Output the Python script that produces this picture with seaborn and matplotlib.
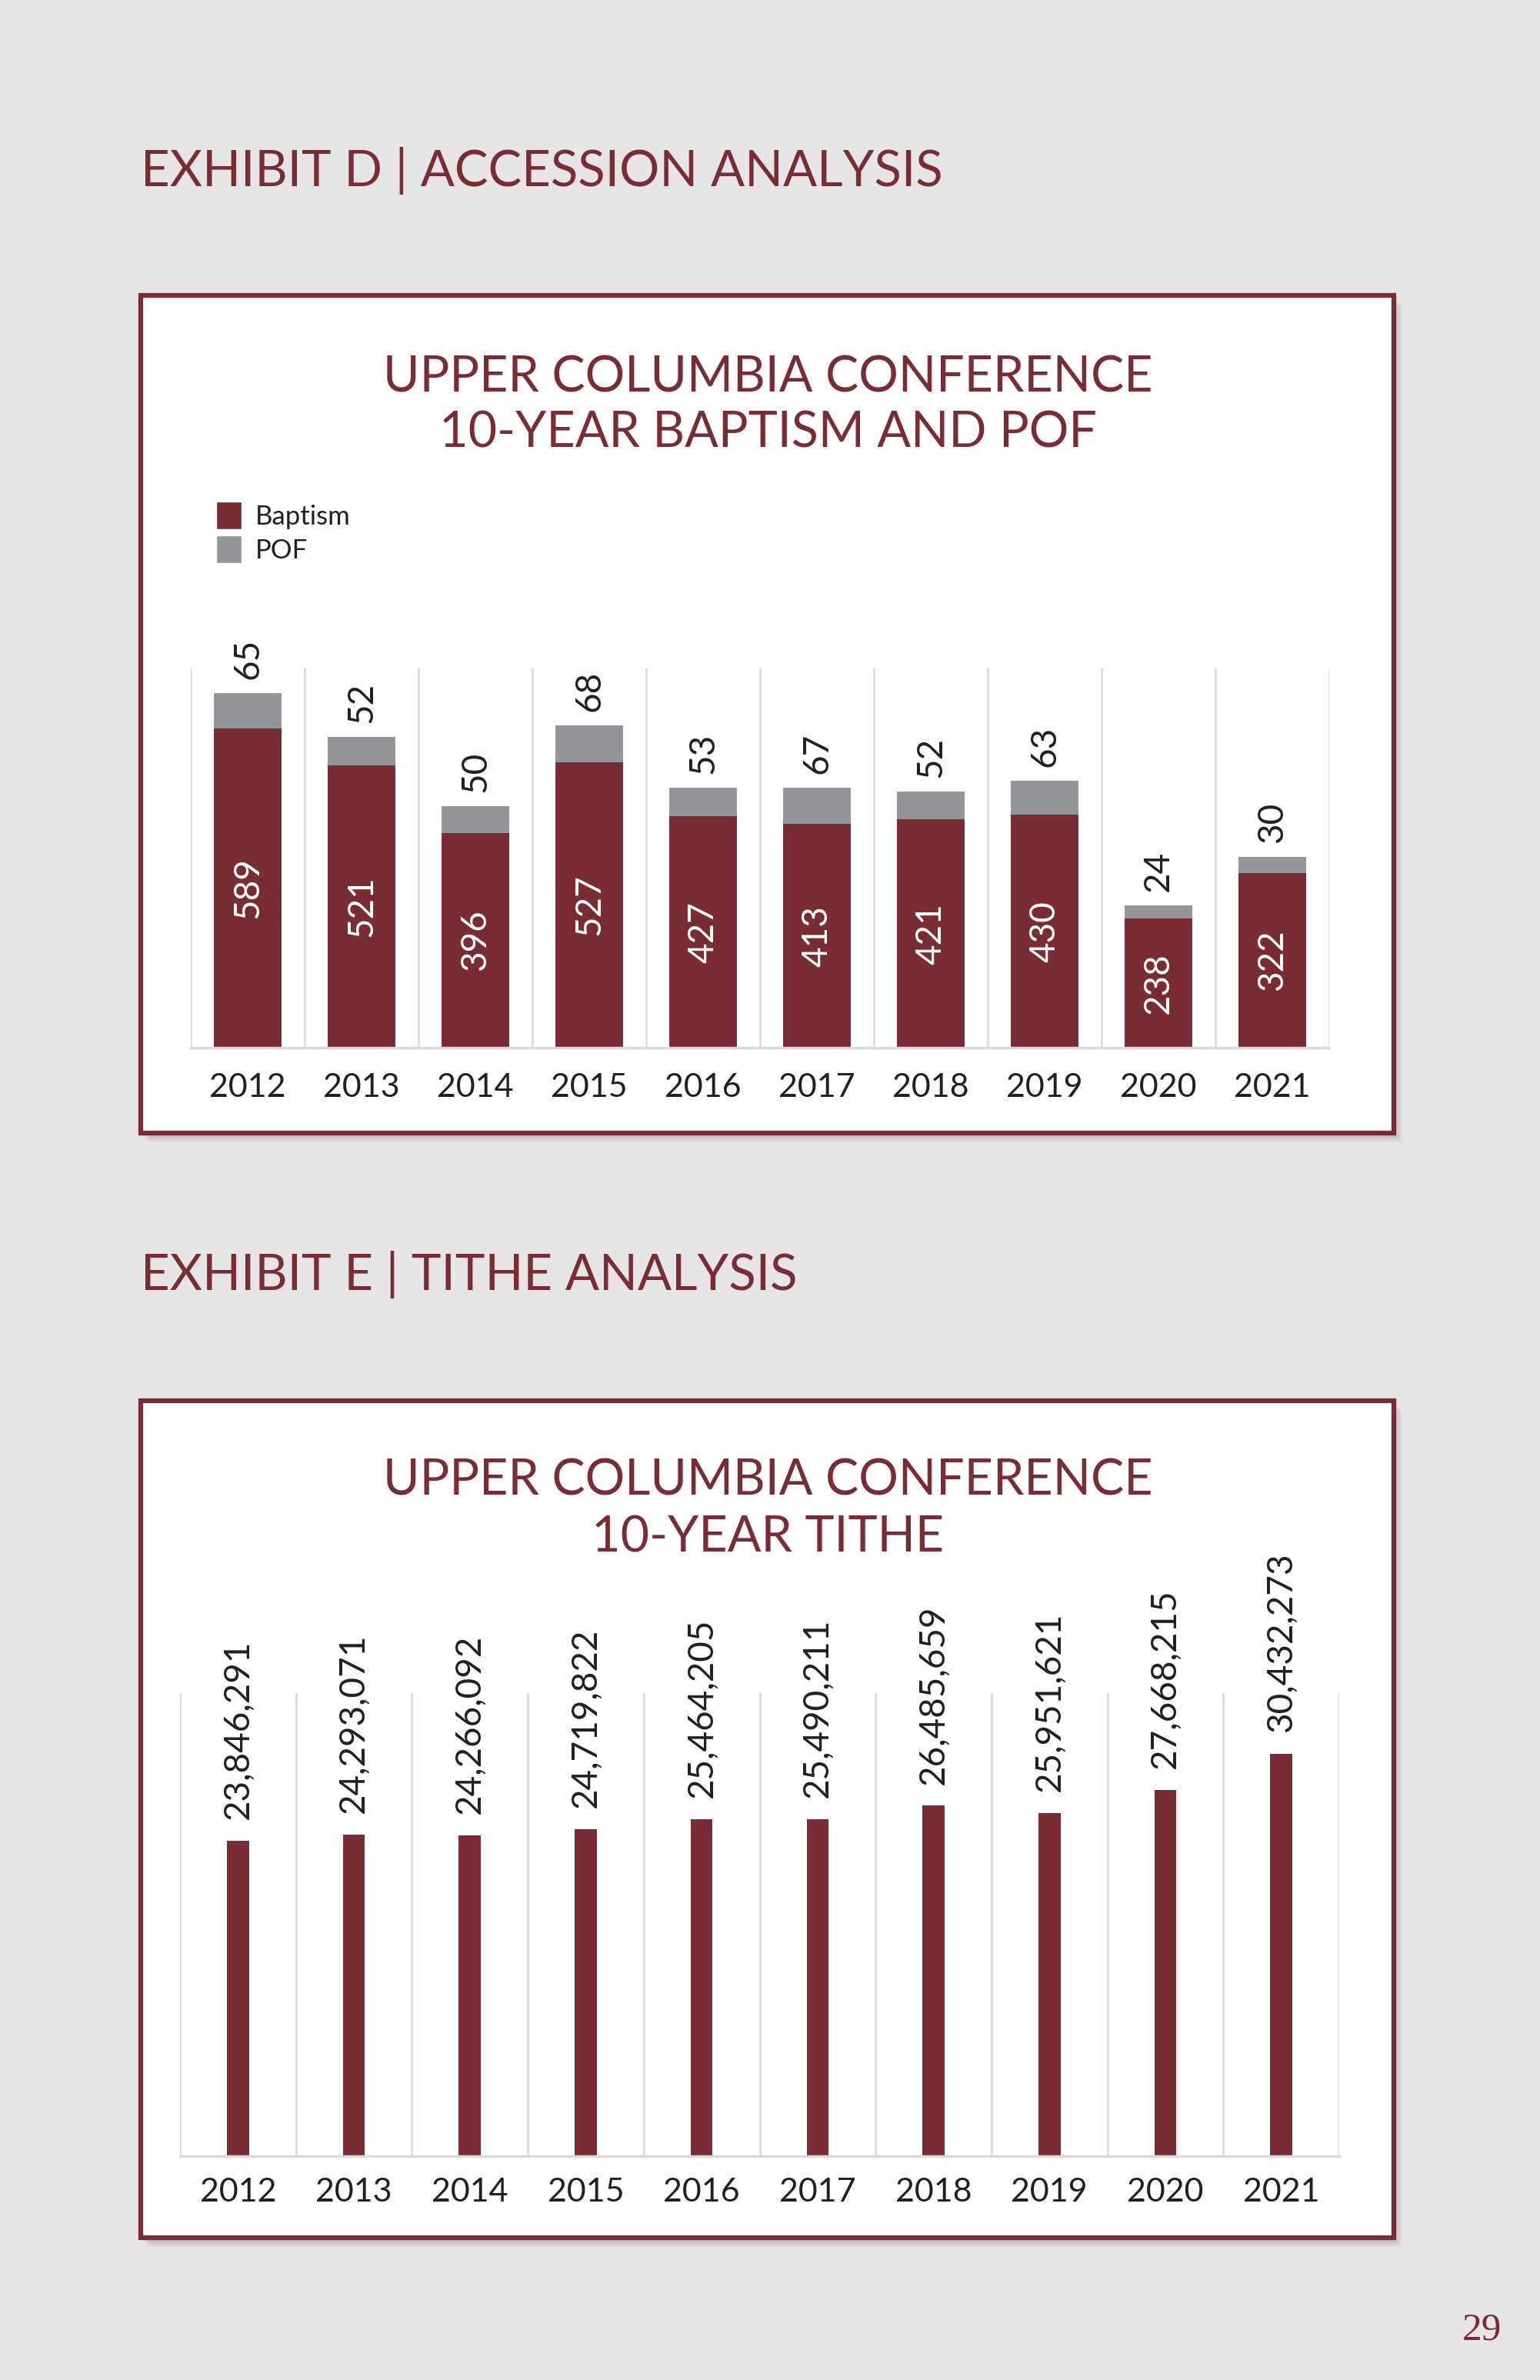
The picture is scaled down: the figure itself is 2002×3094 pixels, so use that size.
import numpy as np
import pandas as pd
import matplotlib
matplotlib.use("Agg")
import matplotlib.pyplot as plt
import seaborn as sns
from matplotlib.patches import Rectangle, Patch

years = ["2012", "2013", "2014", "2015", "2016", "2017", "2018", "2019", "2020", "2021"]
baptism = [589, 521, 396, 527, 427, 413, 421, 430, 238, 322]
pof = [65, 52, 50, 68, 53, 67, 52, 63, 24, 30]
tithe = [23846291, 24293071, 24266092, 24719822, 25464205,
         25490211, 26485659, 25951621, 27668215, 30432273]

MAROON = "#7A2C35"
GRAY = "#939598"
PAGE = "#E7E5E5"
GRID = "#D9D9D9"
DARK = "#231F20"
FONT = ["Lato", "DejaVu Sans"]

sns.set_theme(style="white")
plt.rcParams["font.family"] = FONT

W, H = 2002, 3094
fig = plt.figure(figsize=(W / 100, H / 100), dpi=100, facecolor=PAGE)


def fx(px):
    return px / W


def fy(py):
    return 1 - py / H


def card(x0, y0, x1, y1):
    # soft shadow, then white card with maroon border
    for i in range(4):
        d = 3 + i * 3
        fig.patches.append(Rectangle((fx(x0 + d - 2), fy(y1 + d)), fx(x1 - x0), (y1 - y0) / H,
                                     transform=fig.transFigure, facecolor="black",
                                     edgecolor="none", alpha=0.05, zorder=-3))
    fig.patches.append(Rectangle((fx(x0), fy(y1)), fx(x1 - x0), (y1 - y0) / H,
                                 transform=fig.transFigure, facecolor="white",
                                 edgecolor=MAROON, linewidth=4.5, zorder=-2))


def style_axes(ax, ymax, pad):
    ax.set_facecolor("none")
    ax.set_ylim(0, ymax)
    ax.set_xlim(-0.5, len(years) - 0.5)
    ax.set_yticks([])
    ax.set_xlabel("")
    ax.set_ylabel("")
    ax.set_xticks(np.arange(-0.5, len(years), 1.0), minor=True)
    ax.grid(which="minor", axis="x", color=GRID, linewidth=2)
    ax.grid(which="major", visible=False)
    ax.set_axisbelow(True)
    for s in ["top", "left", "right"]:
        ax.spines[s].set_visible(False)
    ax.spines["bottom"].set_color(GRID)
    ax.spines["bottom"].set_linewidth(2.5)
    ax.tick_params(axis="x", which="both", length=0, labelsize=31,
                   labelcolor=DARK, pad=pad)


def title(x, y, s, size, ha="left"):
    fig.text(fx(x), fy(y), s, color=MAROON, fontsize=size, ha=ha, va="baseline")


# ---------- Exhibit D ----------
title(183, 242, "EXHIBIT D | ACCESSION ANALYSIS", 47)
card(183, 384, 1812, 1473)
title(998, 510, "UPPER COLUMBIA CONFERENCE", 46.5, ha="center")
title(998, 582, "10-YEAR BAPTISM AND POF", 46.5, ha="center")

ax1 = fig.add_axes([fx(248), fy(1362), fx(1728 - 248), (1362 - 869) / H])
total = [b + p for b, p in zip(baptism, pof)]
df1 = pd.DataFrame({"year": years, "baptism": baptism, "pof": pof, "total": total})
sns.barplot(data=df1, x="year", y="total", color=GRAY, width=0.59,
            saturation=1, linewidth=0, ax=ax1)
sns.barplot(data=df1, x="year", y="baptism", color=MAROON, width=0.59,
            saturation=1, linewidth=0, ax=ax1)
ax1.bar_label(ax1.containers[0], labels=[str(v) for v in pof], padding=13,
              rotation=90, fontsize=33, color=DARK)
ax1.bar_label(ax1.containers[1], labels=[str(v) for v in baptism], label_type="center",
              rotation=90, fontsize=33, color="white")
style_axes(ax1, 700, 24)

ax1.legend(handles=[Patch(facecolor=MAROON, label="Baptism"),
                    Patch(facecolor=GRAY, label="POF")],
           loc="upper left", bbox_to_anchor=(fx(281), fy(652)),
           bbox_transform=fig.transFigure, frameon=False, fontsize=25,
           handlelength=0.96, handleheight=1.2, handletextpad=0.5,
           labelspacing=0.25, borderpad=0, borderaxespad=0, labelcolor=DARK)

# ---------- Exhibit E ----------
title(183, 1677, "EXHIBIT E | TITHE ANALYSIS", 47)
card(183, 1821, 1812, 2909)
title(998, 1944, "UPPER COLUMBIA CONFERENCE", 46.5, ha="center")
title(998, 2018, "10-YEAR TITHE", 46.5, ha="center")

ax2 = fig.add_axes([fx(234), fy(2803), fx(1741 - 234), (2803 - 2201) / H])
df2 = pd.DataFrame({"year": years, "tithe": tithe})
sns.barplot(data=df2, x="year", y="tithe", color=MAROON, width=0.19,
            saturation=1, linewidth=0, ax=ax2)
ax2.bar_label(ax2.containers[0], labels=[f"{v:,}" for v in tithe], padding=20,
              rotation=90, fontsize=33, color=DARK)
style_axes(ax2, 35000000, 20)

fig.text(fx(1926), fy(3042), "29", color=MAROON, fontsize=37, ha="center",
         va="baseline", family="Liberation Serif")

fig.savefig("out.png", dpi=100, facecolor=PAGE)
